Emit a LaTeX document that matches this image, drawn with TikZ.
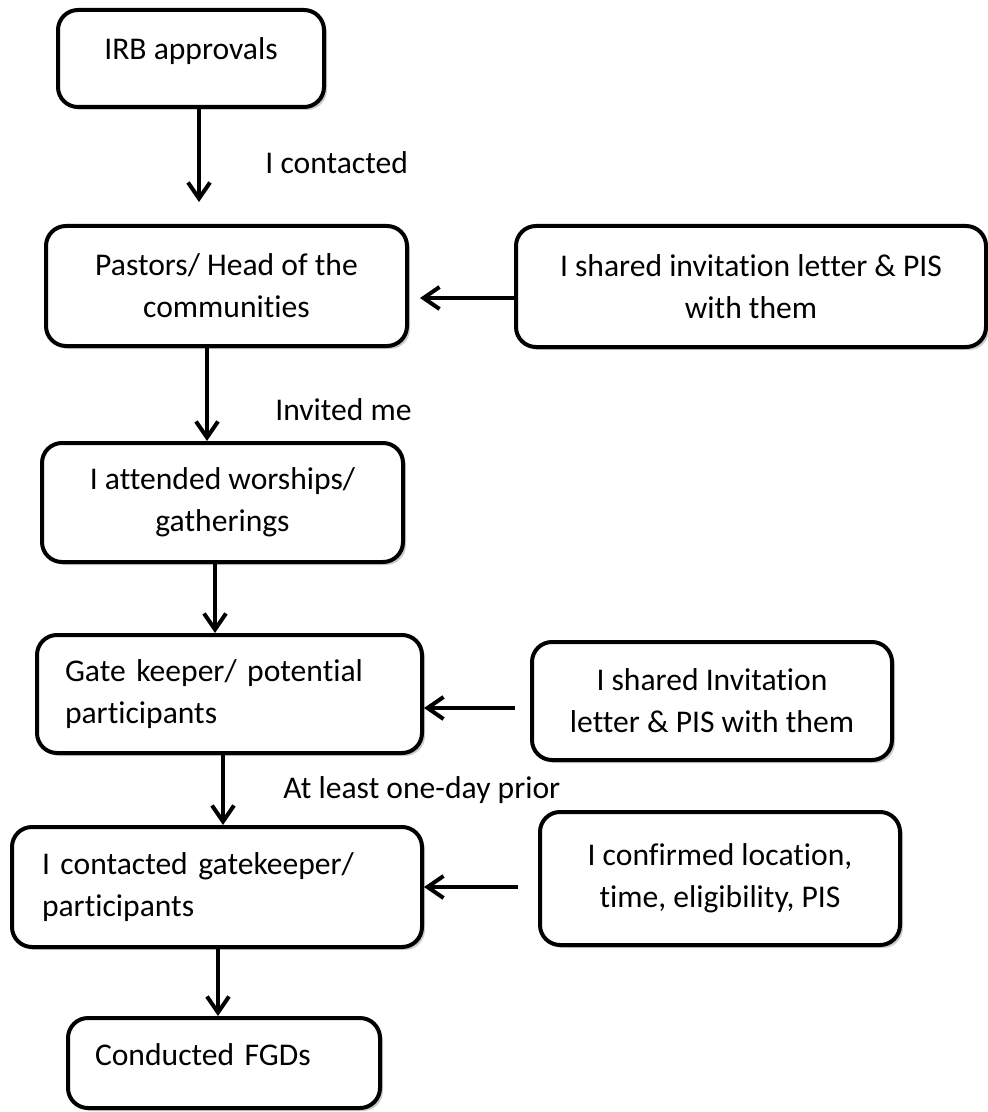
\documentclass[tikz,border=0pt]{standalone}
\usepackage{fontspec}
\setmainfont{Carlito}[Ligatures=NoCommon]
\usetikzlibrary{arrows.meta,shadows}
\begin{document}
\begin{tikzpicture}[x=0.5pt,y=-0.5pt,
  txt/.style={font=\fontsize{15.8}{21}\selectfont},
  box/.style={txt, draw=black, line width=2pt, rounded corners=10pt, fill=white,
    inner sep=0pt, align=center,
    drop shadow={shadow xshift=1.5pt, shadow yshift=-1.5pt, opacity=0.2, fill=black}},
  leftbox/.style={box, align=left},
  flow/.style={line width=2pt, -{Straight Barb[length=8pt,width=11pt,line width=2pt]}},
  note/.style={txt, inner sep=0pt, anchor=west}]
\useasboundingbox (0,0) rectangle (987,1112);

% main column
\node[box, minimum width=133pt, minimum height=48.5pt, text height=12pt, text depth=11pt]
  (irb) at (191,58.5) {IRB approvals};
\node[box, minimum width=180.5pt, minimum height=60pt]
  (pastors) at (226.5,286) {Pastors/ Head of the\\communities};
\node[box, minimum width=180.5pt, minimum height=59.5pt]
  (attend) at (222.5,502.5) {I attended worships/\\gatherings};
\node[leftbox, minimum height=59pt, inner xsep=14pt, text width=164.5pt]
  (gate) at (229.5,694) {Gate keeper/ potential\\participants};
\node[leftbox, minimum height=60pt, inner xsep=15pt, text width=175pt]
  (contact) at (217,887) {I contacted gatekeeper/\\participants};
\node[leftbox, minimum height=45pt, inner xsep=13.5pt, text width=129pt, text height=12pt, text depth=10pt]
  (fgd) at (224,1063) {Conducted FGDs};

% side column
\node[box, minimum width=235pt, minimum height=60.5pt]
  (share1) at (751,286.5) {I shared invitation letter \& PIS\\with them};
\node[box, minimum width=180pt, minimum height=59pt]
  (share2) at (712,701) {I shared Invitation\\letter \& PIS with them};
\node[box, minimum width=180pt, minimum height=66.5pt]
  (confirm) at (720,878.5) {I confirmed location,\\time, eligibility, PIS};

% connector ends
\coordinate (t1) at (199,202);
\coordinate (x2) at (207,0);
\coordinate (x3) at (215,0);
\coordinate (x4) at (223,0);
\coordinate (x5) at (218,0);
\coordinate (h1) at (420,298);
\coordinate (s2) at (515,708);
\coordinate (s3) at (518,887);

% vertical flow
\draw[flow] (irb.south -| t1) -- (t1);
\draw[flow] (pastors.south -| x2) -- (attend.north -| x2);
\draw[flow] (attend.south -| x3) -- (gate.north -| x3);
\draw[flow] (gate.south -| x4) -- (contact.north -| x4);
\draw[flow] (contact.south -| x5) -- (fgd.north -| x5);

% side inputs
\draw[flow] (share1.west |- h1) -- (h1);
\draw[flow] (s2) -- (gate.east |- s2);
\draw[flow] (s3) -- (contact.east |- s3);

% arrow labels
\node[note] (lab1) at (265,163) {I contacted};
\node[note] (lab2) at (275,410) {Invited me};
\node[note] (lab3) at (283,790) {At least one-day prior};
\end{tikzpicture}
\end{document}
